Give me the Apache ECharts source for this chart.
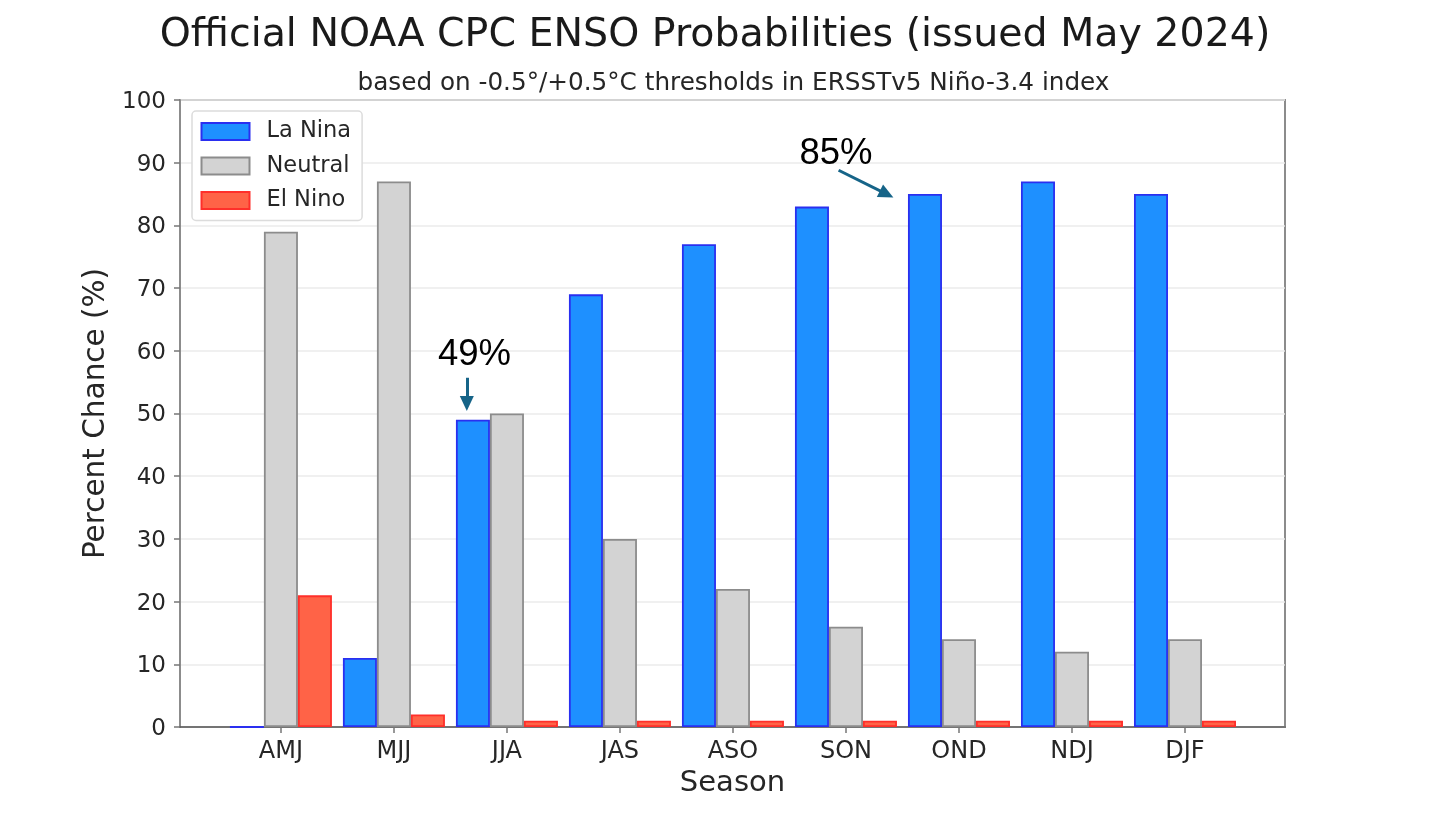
<!DOCTYPE html>
<html><head><meta charset="utf-8">
<style>html,body{margin:0;padding:0;background:#fff}#c{width:1430px;height:832px}</style>
<script src="https://cdn.jsdelivr.net/npm/echarts@6/dist/echarts.min.js"></script>
</head><body><div id="c"></div>
<script>
const seasons = ['AMJ','MJJ','JJA','JAS','ASO','SON','OND','NDJ','DJF'];
const laNina  = [0,11,49,69,77,83,85,87,85];
const neutral = [79,87,50,30,22,16,14,12,14];
const elNino  = [21,2,1,1,1,1,1,1,1];
const yTicks  = [0,10,20,30,40,50,60,70,80,90,100];
const arrow49 = [[1.645,55.7],[1.645,51.6]];
const arrow85 = [[4.935,88.8],[5.36,85.0]];
const F = '"DejaVu Sans"';
const xy = a => a.map((v,i)=>[i,v]);
const positions = seasons.map((_,i)=>i);
const bar = (name,data,fill,edge) => ({
  name,type:'bar',data:xy(data),barWidth:34,barGap:'0%',
  itemStyle:{color:fill,borderColor:edge,borderWidth:1.8},
  emphasis:{disabled:true},silent:true,animation:false
});
const arrowLine = pts => ({
  silent:true,symbol:['none','triangle'],symbolSize:[14,15],animation:false,
  lineStyle:{color:'#166488',width:3,type:'solid'},label:{show:false},emphasis:{disabled:true},
  data:[[{coord:pts[0]},{coord:pts[1]}]]
});
const chart = echarts.init(document.getElementById('c'),null,{renderer:'canvas'});
chart.setOption({
  animation:false,
  backgroundColor:'#fff',
  title:[
    {text:'Official NOAA CPC ENSO Probabilities (issued May 2024)',left:710,top:11,textAlign:'center',
     textStyle:{fontFamily:F,fontSize:39.5,fontWeight:'normal',color:'#1a1a1a'}},
    {text:'based on -0.5°/+0.5°C thresholds in ERSSTv5 Niño-3.4 index',left:728.5,top:66,textAlign:'center',
     textStyle:{fontFamily:F,fontSize:24.7,fontWeight:'normal',color:'#262626'}}
  ],
  grid:{left:180,right:145,top:100,bottom:105,show:true,borderColor:'#8c8c8c',borderWidth:2,backgroundColor:'transparent'},
  legend:{
    orient:'vertical',left:192,top:111,padding:[9,11,8.5,8.5],itemWidth:48,itemHeight:17,itemGap:11.5,icon:'rect',
    backgroundColor:'#fff',borderColor:'#dcdcdc',borderWidth:1.5,borderRadius:4,
    textStyle:{fontFamily:F,fontSize:22.5,color:'#262626',padding:[0,0,0,12]},
    data:['La Nina','Neutral','El Nino'],selectedMode:false,z:10
  },
  xAxis:{
    type:'value',min:-0.893,max:8.885,
    name:'Season',nameLocation:'middle',nameGap:42,
    nameTextStyle:{fontFamily:F,fontSize:29,color:'#262626'},
    splitLine:{show:false},
    axisLine:{show:true,onZero:false,lineStyle:{color:'#555',width:1.5}},
    axisTick:{show:true,customValues:positions,length:6,lineStyle:{color:'#777',width:1.5}},
    axisLabel:{customValues:positions,formatter:v=>seasons[Math.round(v)],fontFamily:F,fontSize:24,color:'#262626',margin:13}
  },
  yAxis:{
    type:'value',min:0,max:100,interval:10,
    name:'Percent Chance (%)',nameLocation:'middle',nameGap:66,nameRotate:90,
    nameTextStyle:{fontFamily:F,fontSize:29.5,color:'#262626'},
    splitLine:{show:true,lineStyle:{color:'#ebebeb',width:1.5}},
    axisLine:{show:true,onZero:false,lineStyle:{color:'#8c8c8c',width:2}},
    axisTick:{show:true,length:6,lineStyle:{color:'#777',width:1.5}},
    axisLabel:{formatter:v=>yTicks.includes(v)?String(v):'',fontFamily:F,fontSize:23,color:'#262626',margin:14,verticalAlign:'top',lineHeight:4}
  },
  series:[
    bar('La Nina',laNina,'#1e90ff','#2a2ff0'),
    bar('Neutral',neutral,'#d3d3d3','#8c8c8c'),
    bar('El Nino',elNino,'#ff6347','#ff2f2a'),
    {type:'scatter',data:[],silent:true,markLine:arrowLine(arrow49)},
    {type:'scatter',data:[],silent:true,markLine:arrowLine(arrow85)}
  ],
  graphic:[
    {type:'text',left:438,top:336,z:20,style:{text:'49%',fontFamily:'"Liberation Sans"',fontSize:36.5,fill:'#000'}},
    {type:'text',left:799.5,top:135,z:20,style:{text:'85%',fontFamily:'"Liberation Sans"',fontSize:36.5,fill:'#000'}}
  ]
});
</script></body></html>
